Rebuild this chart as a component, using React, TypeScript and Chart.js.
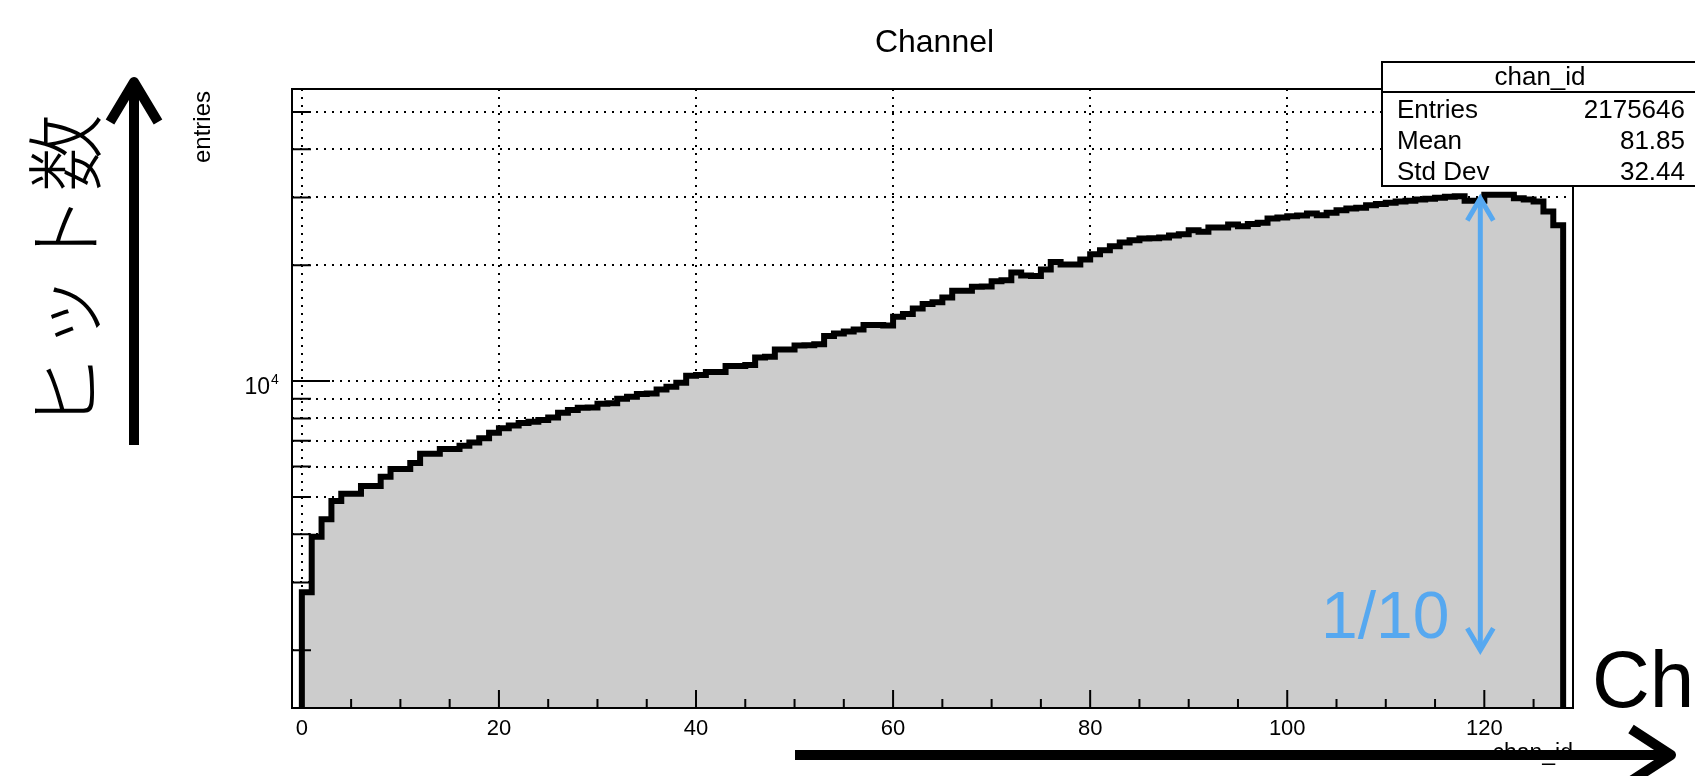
import React, { useEffect, useRef } from "react";
import { Chart, registerables } from "chart.js";

Chart.register(...registerables);

// ---------------- data ----------------
// entries per channel (bin i spans [i, i+1))
const entries: number[] = [
  2830, 3940, 4375, 4880, 5100, 5100, 5340, 5340, 5640, 5910,
  5910, 6125, 6475, 6475, 6660, 6660, 6790, 6930, 7100, 7340,
  7540, 7670, 7780, 7840, 7920, 8050, 8275, 8410, 8530, 8540,
  8730, 8760, 9000, 9105, 9254, 9290, 9516, 9665, 9900, 10320,
  10365, 10553, 10553, 10940, 10940, 11004, 11520, 11565, 12080, 12080,
  12380, 12390, 12475, 13090, 13300, 13460, 13620, 13980, 13990, 13950,
  14690, 14930, 15450, 15850, 16020, 16500, 17170, 17170, 17580, 17620,
  18180, 18270, 19150, 18810, 18740, 19500, 20380, 20090, 20090, 20700,
  21370, 21890, 22420, 22920, 23240, 23480, 23500, 23620, 23900, 24090,
  24670, 24420, 25070, 25070, 25520, 25270, 25600, 25780, 26450, 26610,
  26830, 26940, 27260, 26990, 27370, 27810, 28090, 28200, 28650, 28830,
  29050, 29300, 29410, 29650, 29760, 29940, 30120, 30240, 29410, 29410,
  30480, 30480, 30480, 29880, 29650, 29300, 27600, 25400,
];

const xMin = -1;
const xMax = 129;
const yMin = 1415;
const yMax = 57400;

const xMajorTicks = [0, 20, 40, 60, 80, 100, 120];
const xMinorTicks = [5, 10, 15, 25, 30, 35, 45, 50, 55, 65, 70, 75, 85, 90, 95, 105, 110, 115, 125];
const yGridValues = [2000, 3000, 4000, 5000, 6000, 7000, 8000, 9000, 10000, 20000, 30000, 40000, 50000];
const yLabelledTicks = [10000];

const titleText = "Channel";
const xTitle = "chan_id";
const yTitle = "entries";
const statName = "chan_id";
const statLabels = ["Entries", "Mean", "Std Dev"];
const statValues = ["2175646", "81.85", "32.44"];

const annotYText = "ヒット数";
const annotXText = "Ch";
const ratioText = "1/10";
const ratioArrowX = 120;
const ratioArrowTop = 30000;
const ratioArrowBottom = 2000;

// ---------------- styles ----------------
const FONT = '"Liberation Sans", Arial, Helvetica, sans-serif';
const BLUE = "#56A8F0";

const overlayPlugin = {
  id: "rootOverlay",
  afterDraw(chart: any) {
    const ctx: CanvasRenderingContext2D = chart.ctx;
    const { left, right, top, bottom } = chart.chartArea;
    const xs = chart.scales.x;
    const ys = chart.scales.y;
    ctx.save();

    // frame
    ctx.strokeStyle = "#000";
    ctx.lineWidth = 2;
    ctx.strokeRect(left, top, right - left, bottom - top);

    // tick marks (inside the frame)
    ctx.beginPath();
    xMajorTicks.forEach((v) => {
      const px = xs.getPixelForValue(v);
      ctx.moveTo(px, bottom);
      ctx.lineTo(px, bottom - 18);
    });
    xMinorTicks.forEach((v) => {
      const px = xs.getPixelForValue(v);
      ctx.moveTo(px, bottom);
      ctx.lineTo(px, bottom - 9);
    });
    yGridValues.forEach((v) => {
      const py = ys.getPixelForValue(v);
      const len = yLabelledTicks.includes(v) ? 38 : 19;
      ctx.moveTo(left, py);
      ctx.lineTo(left + len, py);
    });
    ctx.stroke();

    // x tick labels
    ctx.fillStyle = "#000";
    ctx.font = `22px ${FONT}`;
    ctx.textAlign = "center";
    ctx.textBaseline = "alphabetic";
    xMajorTicks.forEach((v) => {
      ctx.fillText(String(v), xs.getPixelForValue(v), bottom + 27);
    });

    // y tick label 10^4
    yLabelledTicks.forEach((v) => {
      const py = ys.getPixelForValue(v);
      const exp = Math.round(Math.log10(v));
      ctx.font = `23px ${FONT}`;
      ctx.textAlign = "right";
      ctx.fillText("10", left - 22, py + 12.5);
      ctx.font = `14px ${FONT}`;
      ctx.textAlign = "left";
      ctx.fillText(String(exp), left - 21, py + 2.5);
    });

    // y axis title (rotated)
    ctx.save();
    ctx.translate(210, top + 2);
    ctx.rotate(-Math.PI / 2);
    ctx.font = `24px ${FONT}`;
    ctx.textAlign = "right";
    ctx.textBaseline = "alphabetic";
    ctx.fillText(yTitle, 0, 0);
    ctx.restore();

    // x axis title
    ctx.font = `23px ${FONT}`;
    ctx.textAlign = "right";
    ctx.textBaseline = "alphabetic";
    ctx.fillText(xTitle, right, 760);

    // title
    ctx.font = `32px ${FONT}`;
    ctx.textAlign = "center";
    ctx.fillText(titleText, (left + right) / 2 + 2, 52);

    // stat box
    const bx = 1382, by = 62, bw = 330, bdiv = 92, bb = 186;
    ctx.fillStyle = "#fff";
    ctx.fillRect(bx, by, bw, bb - by);
    ctx.strokeStyle = "#000";
    ctx.lineWidth = 2;
    ctx.strokeRect(bx, by, bw, bb - by);
    ctx.beginPath();
    ctx.moveTo(bx, bdiv);
    ctx.lineTo(bx + bw, bdiv);
    ctx.stroke();
    ctx.fillStyle = "#000";
    ctx.font = `26px ${FONT}`;
    ctx.textAlign = "center";
    ctx.fillText(statName, 1540, 85);
    const rowBase = [118, 149, 180];
    statLabels.forEach((lab, i) => {
      ctx.textAlign = "left";
      ctx.fillText(lab, 1397, rowBase[i]);
      ctx.textAlign = "right";
      ctx.fillText(statValues[i], 1685, rowBase[i]);
    });

    // ---- annotations ----
    // Japanese label rotated
    ctx.save();
    ctx.translate(65, 272);
    ctx.rotate(-Math.PI / 2);
    ctx.font = `300 78px "Noto Sans CJK JP", sans-serif`;
    try {
      (ctx as any).letterSpacing = "2px";
    } catch (e) {}
    ctx.textAlign = "center";
    ctx.textBaseline = "middle";
    ctx.fillText(annotYText, 0, 0);
    try {
      (ctx as any).letterSpacing = "0px";
    } catch (e) {}
    ctx.restore();

    // black vertical arrow
    ctx.strokeStyle = "#000";
    ctx.lineWidth = 10;
    ctx.lineCap = "butt";
    ctx.lineJoin = "round";
    ctx.beginPath();
    ctx.moveTo(134, 445);
    ctx.lineTo(134, 90);
    ctx.stroke();
    ctx.beginPath();
    ctx.moveTo(110, 122);
    ctx.lineTo(134, 82);
    ctx.lineTo(158, 122);
    ctx.stroke();

    // black horizontal arrow
    ctx.beginPath();
    ctx.moveTo(795, 755);
    ctx.lineTo(1664, 755);
    ctx.stroke();
    ctx.beginPath();
    ctx.moveTo(1631, 729);
    ctx.lineTo(1671, 755);
    ctx.lineTo(1631, 781);
    ctx.stroke();

    // "Ch"
    ctx.fillStyle = "#000";
    ctx.font = `80px ${FONT}`;
    ctx.textAlign = "left";
    ctx.textBaseline = "alphabetic";
    ctx.fillText(annotXText, 1592, 707);

    // blue double arrow at x = 120 (from peak down one decade)
    const ax = xs.getPixelForValue(ratioArrowX) - 4;
    const yTop = ys.getPixelForValue(ratioArrowTop);
    const yBot = ys.getPixelForValue(ratioArrowBottom);
    ctx.strokeStyle = BLUE;
    ctx.lineWidth = 5;
    ctx.lineJoin = "miter";
    ctx.beginPath();
    ctx.moveTo(ax, yTop + 2);
    ctx.lineTo(ax, yBot - 2);
    ctx.stroke();
    ctx.beginPath();
    ctx.moveTo(ax - 13, yTop + 23);
    ctx.lineTo(ax, yTop + 1);
    ctx.lineTo(ax + 13, yTop + 23);
    ctx.stroke();
    ctx.beginPath();
    ctx.moveTo(ax - 13, yBot - 22);
    ctx.lineTo(ax, yBot);
    ctx.lineTo(ax + 13, yBot - 22);
    ctx.stroke();
    ctx.fillStyle = BLUE;
    ctx.font = `66px ${FONT}`;
    ctx.textAlign = "left";
    ctx.fillText(ratioText, 1321, 638);

    ctx.restore();
  },
};

export default function App() {
  const canvasRef = useRef<HTMLCanvasElement | null>(null);

  useEffect(() => {
    const canvas = canvasRef.current;
    if (!canvas) return;
    const points = [
      { x: 0, y: yMin },
      ...entries.map((v, i) => ({ x: i, y: v })),
      { x: entries.length, y: entries[entries.length - 1] },
      { x: entries.length, y: yMin },
    ];
    const chart = new Chart(canvas, {
      type: "line",
      data: {
        datasets: [
          {
            label: "chan_id",
            data: points,
            stepped: "before",
            fill: "start",
            backgroundColor: "#cccccc",
            borderColor: "#000000",
            borderWidth: 6,
            borderJoinStyle: "miter",
            pointRadius: 0,
            tension: 0,
          },
        ],
      },
      options: {
        responsive: false,
        animation: false,
        devicePixelRatio: 1,
        layout: { padding: { left: 292, top: 89, right: 122, bottom: 68 } },
        plugins: {
          legend: { display: false },
          tooltip: { enabled: false },
          title: { display: false },
        },
        scales: {
          x: {
            type: "linear",
            min: xMin,
            max: xMax,
            z: 1,
            afterBuildTicks: (scale: any) => {
              scale.ticks = xMajorTicks.map((v) => ({ value: v }));
            },
            ticks: { display: false },
            grid: { color: "#000", lineWidth: 2, drawTicks: false },
            border: { display: false, dash: [2, 6] },
          },
          y: {
            type: "logarithmic",
            min: yMin,
            max: yMax,
            z: 1,
            afterBuildTicks: (scale: any) => {
              scale.ticks = yGridValues.map((v) => ({ value: v }));
            },
            ticks: { display: false },
            grid: { color: "#000", lineWidth: 2, drawTicks: false },
            border: { display: false, dash: [2, 6] },
          },
        },
      },
      plugins: [overlayPlugin],
    } as any);
    return () => chart.destroy();
  }, []);

  return (
    <div style={{ position: "fixed", left: 0, top: 0, width: 1695, height: 776, background: "#fff" }}>
      <canvas ref={canvasRef} width={1695} height={776} style={{ display: "block", width: 1695, height: 776 }} />
    </div>
  );
}
